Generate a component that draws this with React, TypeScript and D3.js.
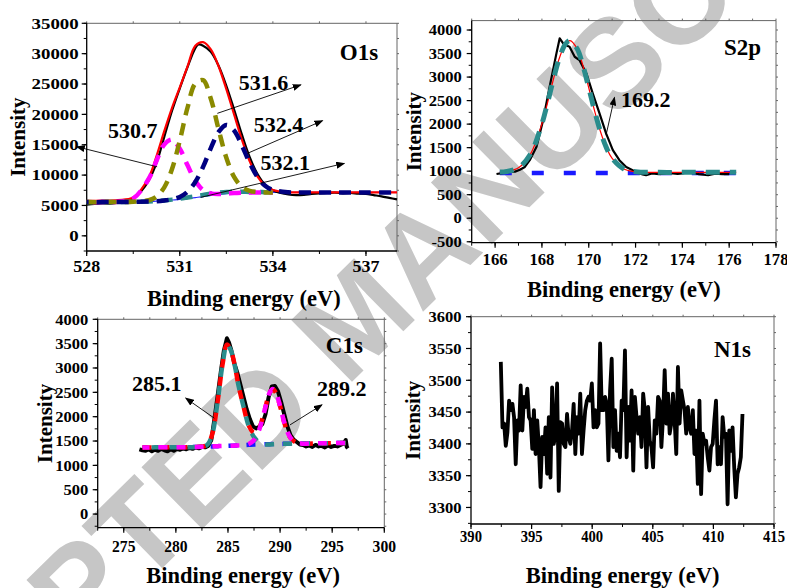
import React from 'react';
import * as d3 from 'd3';

// ---------- O1s ----------
const o1sFitE = [528, 528.5, 529, 529.5, 530, 530.25, 530.5, 530.75, 531, 531.25, 531.5, 531.75, 532, 532.25, 532.5, 532.75, 533, 533.25, 533.5, 533.75, 534, 534.5, 535, 536, 537, 538];
const o1sBase = [5550, 5550, 5570, 5600, 5650, 5700, 5800, 5900, 6000, 6150, 6300, 6450, 6650, 6800, 6950, 7050, 7100, 7130, 7150, 7150, 7150, 7150, 7150, 7150, 7150, 7150];
// components stop where they merge with the baseline (534 eV), except 532.4
const o1s5307 = [5550, 5550, 5600, 6160, 9400, 12370, 15030, 15850, 14350, 11610, 9080, 7550, 6990, 6880, 6950, 7050, 7100, 7130, 7150, 7150, 7150];
const o1s5316 = [5550, 5550, 5570, 5610, 5865, 6460, 7990, 11010, 15700, 21130, 25090, 25630, 22580, 17550, 12860, 9690, 8060, 7410, 7220, 7150, 7150];
const o1s5324 = [5550, 5550, 5570, 5600, 5650, 5706, 5830, 6020, 6400, 7260, 8860, 11350, 14450, 17100, 18250, 17350, 14900, 12030, 9710, 8260, 7550, 7180, 7150, 7150, 7150, 7150];
const o1s5321 = [5550, 5550, 5570, 5600, 5660, 5720, 5830, 5960, 6110, 6310, 6520, 6730, 6940, 7090, 7210, 7270, 7260, 7230, 7215, 7190, 7170];
const o1sSum = [5750, 5800, 5900, 6300, 9615, 13136, 17250, 21080, 24450, 27900, 31300, 31900, 30720, 27930, 24160, 19990, 15860, 12310, 9780, 8260, 7550, 7180, 7150, 7150, 7150, 7150];
const o1sRawE = [528, 528.25, 528.5, 528.75, 529, 529.25, 529.5, 529.75, 530, 530.25, 530.5, 530.75, 531, 531.25, 531.5, 531.6, 531.75, 532, 532.25, 532.5, 532.75, 533, 533.25, 533.5, 533.75, 534, 534.25, 534.5, 534.75, 535, 535.25, 535.5, 535.75, 536, 536.25, 536.5, 536.75, 537, 537.25, 537.5, 537.75, 538];
const o1sRaw = [5150, 5250, 5350, 5300, 5450, 5700, 6200, 7300, 9100, 12000, 16300, 20600, 24300, 27800, 30900, 31500, 31300, 30300, 28000, 24700, 20800, 16700, 13000, 10200, 8400, 7500, 7050, 6800, 6700, 6750, 6900, 7000, 7050, 7100, 7000, 7050, 6950, 6900, 6700, 6500, 6250, 6000];
const o1sXTicks = [528, 531, 534, 537];
const o1sYTicks = [0, 5000, 10000, 15000, 20000, 25000, 30000, 35000];

// ---------- S2p ----------
const s2pFitE = [166.2, 166.5, 167, 167.5, 168, 168.25, 168.5, 168.75, 169, 169.2, 169.5, 169.75, 170, 170.25, 170.5, 170.75, 171, 171.5, 172, 173, 174, 175, 176.3];
const s2pFit = [980, 993, 1073, 1353, 2008, 2474, 2970, 3409, 3699, 3775, 3606, 3246, 2773, 2281, 1844, 1506, 1273, 1047, 987, 975, 975, 975, 975];
const s2pBaseE = [166.2, 176.3];
const s2pBase = [960, 960];
const s2pRawE = [166.06, 166.3, 166.63, 166.85, 167.06, 167.27, 167.48, 167.77, 168.05, 168.33, 168.62, 168.76, 168.9, 169.0, 169.18, 169.4, 169.6, 169.9, 170.17, 170.46, 170.74, 171.03, 171.31, 171.6, 172.02, 172.3, 172.45, 172.7, 173.0, 173.3, 173.5, 173.8, 174.0, 174.3, 174.5, 174.7, 175.1, 175.4, 175.7, 176.0];
const s2pRaw = [940, 960, 985, 990, 1030, 1090, 1234, 1517, 2085, 2794, 3504, 3823, 3720, 3680, 3645, 3432, 3362, 3078, 2653, 2227, 1802, 1447, 1234, 1090, 985, 930, 915, 950, 936, 955, 960, 940, 950, 985, 960, 936, 915, 945, 936, 936];
const s2pXTicks = [166, 168, 170, 172, 174, 176, 178];
const s2pYTicks = [-500, 0, 500, 1000, 1500, 2000, 2500, 3000, 3500, 4000];

// ---------- C1s ----------
const c1sFitE = [276.8, 278, 280, 282, 283, 283.5, 284, 284.5, 284.9, 285.3, 285.7, 286, 286.5, 287, 287.5, 288, 288.5, 289, 289.3, 289.6, 290, 290.5, 291, 291.5, 292, 294, 296.3];
const c1sBase = [1368, 1370, 1372, 1378, 1385, 1390, 1395, 1398, 1400, 1403, 1406, 1410, 1415, 1422, 1430, 1432, 1434, 1436, 1437, 1438, 1440, 1443, 1446, 1448, 1450, 1455, 1460];
const c1s2851 = [1368, 1370, 1372, 1378, 1420, 1650, 2300, 3100, 3480, 3350, 3000, 2650, 2200, 1800, 1580, 1470, 1430, 1430, 1432, 1435, 1440, 1443, 1446, 1448, 1450, 1455, 1460];
const c1s2892 = [1368, 1370, 1372, 1378, 1385, 1390, 1395, 1398, 1400, 1403, 1406, 1410, 1415, 1440, 1520, 1735, 2120, 2493, 2570, 2495, 2215, 1812, 1565, 1475, 1450, 1455, 1460];
const c1sSum = [1368, 1370, 1372, 1378, 1420, 1650, 2300, 3100, 3480, 3350, 3000, 2650, 2200, 1818, 1670, 1773, 2116, 2487, 2565, 2492, 2215, 1812, 1565, 1475, 1450, 1455, 1460];
const c1sRawE = [276.5, 276.8, 277.1, 277.4, 277.7, 278, 278.3, 278.6, 278.9, 279.2, 279.5, 279.8, 280.1, 280.4, 280.7, 281, 281.3, 281.6, 281.9, 282.2, 282.5, 282.8, 283.1, 283.4, 283.7, 284, 284.3, 284.6, 284.9, 285.1, 285.3, 285.6, 285.9, 286.2, 286.5, 286.8, 287.1, 287.4, 287.7, 288, 288.3, 288.6, 288.9, 289.2, 289.5, 289.8, 290.1, 290.4, 290.7, 291, 291.3, 291.6, 291.9, 292.2, 292.5, 292.8, 293.1, 293.4, 293.7, 294, 294.3, 294.6, 294.9, 295.2, 295.5, 295.8, 296.1, 296.3, 296.4, 296.5];
const c1sRaw = [1330, 1310, 1300, 1330, 1290, 1320, 1300, 1340, 1310, 1290, 1330, 1300, 1340, 1320, 1350, 1330, 1360, 1340, 1370, 1350, 1380, 1370, 1400, 1520, 1950, 2420, 2900, 3350, 3610, 3520, 3380, 3100, 2900, 2650, 2400, 2150, 1950, 1800, 1760, 1790, 1850, 2050, 2400, 2620, 2630, 2520, 2300, 2050, 1800, 1620, 1530, 1480, 1430, 1420, 1390, 1410, 1380, 1420, 1390, 1400, 1370, 1410, 1380, 1400, 1390, 1420, 1450, 1520, 1380, 1350];
const c1sXTicks = [275, 280, 285, 290, 295, 300];
const c1sYTicks = [0, 500, 1000, 1500, 2000, 2500, 3000, 3500, 4000];

// ---------- N1s ----------
const n1sStartE = 392.46;
const n1sEndE = 412.4;
const n1sRaw = [3529, 3426, 3432, 3397, 3418, 3468, 3453, 3463, 3442, 3368, 3437, 3421, 3492, 3421, 3474, 3458, 3487, 3442, 3437, 3392, 3453, 3384, 3437, 3395, 3332, 3411, 3384, 3426, 3353, 3442, 3347, 3489, 3400, 3416, 3495, 3326, 3434, 3432, 3400, 3395, 3447, 3411, 3400, 3421, 3463, 3384, 3442, 3416, 3479, 3384, 3421, 3453, 3468, 3474, 3468, 3495, 3426, 3453, 3426, 3432, 3558, 3453, 3453, 3474, 3463, 3374, 3484, 3534, 3395, 3453, 3389, 3416, 3379, 3468, 3453, 3547, 3379, 3458, 3405, 3484, 3358, 3474, 3442, 3416, 3442, 3395, 3479, 3453, 3363, 3458, 3405, 3395, 3363, 3437, 3416, 3474, 3468, 3395, 3442, 3516, 3432, 3479, 3416, 3432, 3479, 3437, 3384, 3521, 3432, 3484, 3468, 3453, 3416, 3458, 3426, 3416, 3453, 3384, 3421, 3337, 3468, 3321, 3416, 3400, 3405, 3379, 3358, 3395, 3400, 3437, 3468, 3368, 3395, 3368, 3442, 3411, 3416, 3305, 3421, 3389, 3426, 3363, 3316, 3353, 3363, 3379, 3447];
const n1sRawE = n1sRaw.map((_, i) => n1sStartE + (i * (n1sEndE - n1sStartE)) / (n1sRaw.length - 1));
const n1sXTicks = [390, 395, 400, 405, 410, 415];
const n1sYTicks = [3300, 3350, 3400, 3450, 3500, 3550, 3600];

const FONT = '"Liberation Serif", "Times New Roman", serif';

type Series = { xs: number[]; ys: number[]; color: string; width: number; dash?: string; offset?: number; smooth?: boolean };
type Ann = { label: string; at: [number, number]; from: [number, number]; to: [number, number] };

type PanelProps = {
  box: [number, number, number, number]; // left, top, right, bottom
  xDom: [number, number];
  yDom: [number, number];
  xTicks: number[];
  xMinor: number;
  yTicks: number[];
  yMinor: number;
  series: Series[];
  anns: Ann[];
  name: string;
  nameOff: [number, number];
  ySx: number;
  xSx: number;
  xLabDy: number;
  yLabGap: number;
  yTitleX: number;
  xTitleY: number;
};

function Panel(p: PanelProps) {
  const [left, top, right, bottom] = p.box;
  const x = d3.scaleLinear().domain(p.xDom).range([left, right]);
  const y = d3.scaleLinear().domain(p.yDom).range([bottom, top]);
  const xMinor = d3.range(Math.ceil(p.xDom[0] / p.xMinor - 1e-6) * p.xMinor, p.xDom[1] + 1e-6, p.xMinor);
  const yMinor = d3.range(Math.ceil(p.yDom[0] / p.yMinor - 1e-6) * p.yMinor, p.yDom[1] + 1e-6, p.yMinor);

  const path = (s: Series) =>
    d3
      .line<number>()
      .x((_, i) => x(s.xs[i]))
      .y((d) => y(d))
      .curve(s.smooth ? d3.curveCatmullRom : d3.curveLinear)(s.ys) || '';

  return (
    <g style={{ fontFamily: FONT, fontWeight: 700 }}>
      {/* frame */}
      <line x1={left} x2={right} y1={top} y2={top} stroke="#666" strokeWidth={1} />
      <line x1={right} x2={right} y1={top} y2={bottom} stroke="#666" strokeWidth={1} />
      {xMinor.map((v) => (
        <line key={'tx' + v} x1={x(v)} x2={x(v)} y1={top} y2={top - 2} stroke="#666" />
      ))}
      {yMinor.map((v) => (
        <line key={'ty' + v} x1={right} x2={right + 2} y1={y(v)} y2={y(v)} stroke="#666" />
      ))}
      <line x1={left} x2={right} y1={bottom} y2={bottom} stroke="#000" strokeWidth={1.3} />
      <line x1={left} x2={left} y1={top} y2={bottom} stroke="#000" strokeWidth={1.3} />
      {xMinor.map((v) => (
        <line key={'mx' + v} x1={x(v)} x2={x(v)} y1={bottom} y2={bottom + 3} stroke="#000" />
      ))}
      {yMinor.map((v) => (
        <line key={'my' + v} x1={left} x2={left - 3} y1={y(v)} y2={y(v)} stroke="#000" />
      ))}
      {p.xTicks.map((v) => (
        <g key={'xt' + v}>
          <line x1={x(v)} x2={x(v)} y1={bottom} y2={bottom + 5} stroke="#000" strokeWidth={1.2} />
          <text transform={`translate(${x(v)},${bottom + p.xLabDy}) scale(${p.xSx},1)`} textAnchor="middle" fontSize={17}>
            {v}
          </text>
        </g>
      ))}
      {p.yTicks.map((v) => (
        <g key={'yt' + v}>
          <line x1={left} x2={left - 5} y1={y(v)} y2={y(v)} stroke="#000" strokeWidth={1.2} />
          <text transform={`translate(${left - p.yLabGap},${y(v)}) scale(${p.ySx},1)`} textAnchor="end" dy="0.36em" fontSize={14.5}>
            {v}
          </text>
        </g>
      ))}
      {/* data */}
      {p.series.map((s, i) => (
        <path
          key={'s' + i}
          d={path(s)}
          fill="none"
          stroke={s.color}
          strokeWidth={s.width}
          strokeDasharray={s.dash}
          strokeDashoffset={s.offset}
          strokeLinejoin="round"
        />
      ))}
      {/* annotations */}
      {p.anns.map((a, i) => (
        <g key={'a' + i}>
          <line x1={x(a.from[0])} y1={y(a.from[1])} x2={x(a.to[0])} y2={y(a.to[1])} stroke="#000" strokeWidth={0.9} markerEnd="url(#arrow)" />
          <text x={x(a.at[0])} y={y(a.at[1])} fontSize={22}>
            {a.label}
          </text>
        </g>
      ))}
      <text x={right - p.nameOff[0]} y={top + p.nameOff[1]} textAnchor="middle" fontSize={23}>
        {p.name}
      </text>
      <text transform={`translate(${p.yTitleX},${(top + bottom) / 2}) rotate(-90)`} textAnchor="middle" fontSize={21}>
        Intensity
      </text>
      <text x={(left + right) / 2 + (left < 200 ? 2 : 0)} y={p.xTitleY} textAnchor="middle" fontSize={22.5}>
        Binding energy (eV)
      </text>
    </g>
  );
}

export default function App() {
  const dash = '12 8';
  return (
    <svg width={787} height={588} style={{ position: 'absolute', left: 0, top: 0, background: '#fff' }}>
      <defs>
        <marker id="arrow" markerUnits="userSpaceOnUse" markerWidth={9} markerHeight={7} refX={8} refY={3.5} orient="auto">
          <path d="M0,0 L9,3.5 L0,7 z" fill="#000" />
        </marker>
      </defs>
      {/* watermark */}
      <text
        transform="translate(355,317) rotate(-44.5)"
        textAnchor="middle"
        dy="0.35em"
        fontSize={126}
        style={{ fontFamily: '"Liberation Sans", Arial, sans-serif', fontWeight: 700 }}
        fill="#c6c6c6"
      >
        ACCEPTED MANUSCRIPT
      </text>

      <Panel
        box={[86.7, 23.3, 397, 251]}
        xDom={[528, 538]}
        yDom={[-2500, 35000]}
        xTicks={o1sXTicks}
        xMinor={1.5}
        yTicks={o1sYTicks}
        yMinor={2500}
        series={[
          { xs: o1sFitE, ys: o1sBase, color: '#2b2bff', width: 1.2, smooth: true },
          { xs: o1sRawE, ys: o1sRaw, color: '#000', width: 2.2, smooth: true },
          { xs: o1sFitE, ys: o1sSum, color: '#ff0000', width: 2.2, smooth: true },
          { xs: o1sFitE.slice(0, o1s5321.length), ys: o1s5321, color: '#2a8c8c', width: 4.5, dash, offset: 6, smooth: true },
          { xs: o1sFitE.slice(0, o1s5307.length), ys: o1s5307, color: '#ff00ff', width: 4.5, dash, offset: 14, smooth: true },
          { xs: o1sFitE.slice(0, o1s5316.length), ys: o1s5316, color: '#8a8a00', width: 4.5, dash, offset: 2, smooth: true },
          { xs: o1sFitE, ys: o1s5324, color: '#000080', width: 4.5, dash, offset: 10, smooth: true },
        ]}
        anns={[
          { label: '531.6', at: [532.9, 24000], from: [532.21, 20170], to: [534.9, 24860] },
          { label: '532.4', at: [533.38, 17090], from: [533.18, 13580], to: [535.6, 18960] },
          { label: '532.1', at: [533.6, 10830], from: [531.67, 6330], to: [536.3, 11930] },
          { label: '530.7', at: [528.69, 16100], from: [530.27, 11370], to: [527.68, 14670] },
        ]}
        name="O1s"
        nameOff={[38, 37]}
        ySx={1.3}
        xSx={1.06}
        xLabDy={21}
        yLabGap={8}
        yTitleX={25}
        xTitleY={306}
      />

      <Panel
        box={[471.7, 20.6, 776, 242.7]}
        xDom={[165, 178]}
        yDom={[-520, 4200]}
        xTicks={s2pXTicks}
        xMinor={1}
        yTicks={s2pYTicks}
        yMinor={250}
        series={[
          { xs: s2pBaseE, ys: s2pBase, color: '#1a1aff', width: 4.5, dash: '12 20' },
          { xs: s2pRawE, ys: s2pRaw, color: '#000', width: 2.2, smooth: false },
          { xs: s2pFitE, ys: s2pFit, color: '#ff0000', width: 1.2, smooth: true },
          { xs: s2pFitE, ys: s2pFit, color: '#2a8c8c', width: 5, dash: '14 10', smooth: true },
        ]}
        anns={[{ label: '169.2', at: [171.38, 2368], from: [170.74, 1766], to: [171.1, 2568] }]}
        name="S2p"
        nameOff={[33.5, 34.5]}
        ySx={1.14}
        xSx={0.98}
        xLabDy={22}
        yLabGap={10}
        yTitleX={421}
        xTitleY={297}
      />

      <Panel
        box={[97.7, 319.3, 384.3, 527.7]}
        xDom={[272.5, 300]}
        yDom={[-280, 4000]}
        xTicks={c1sXTicks}
        xMinor={2.5}
        yTicks={c1sYTicks}
        yMinor={250}
        series={[
          { xs: c1sFitE, ys: c1sBase, color: '#1a1aff', width: 4.5, dash: '9 9', offset: 4, smooth: true },
          { xs: c1sRawE, ys: c1sRaw, color: '#000', width: 4, smooth: false },
          { xs: c1sFitE, ys: c1sSum, color: '#ff0000', width: 4.5, dash: '9 9', smooth: true },
          { xs: c1sFitE, ys: c1s2851, color: '#2a8c8c', width: 4.5, dash: '9 9', offset: 9, smooth: true },
          { xs: c1sFitE, ys: c1s2892, color: '#ff00ff', width: 4.5, dash: '9 9', offset: 2, smooth: true },
        ]}
        anns={[
          { label: '285.1', at: [275.79, 2529], from: [283.69, 1969], to: [280.95, 2380] },
          { label: '289.2', at: [293.54, 2427], from: [290.95, 1831], to: [294.02, 2242] },
        ]}
        name="C1s"
        nameOff={[40, 34]}
        ySx={1.14}
        xSx={0.92}
        xLabDy={24}
        yLabGap={9.5}
        yTitleX={51.5}
        xTitleY={583}
      />

      <Panel
        box={[471, 316.7, 774, 524]}
        xDom={[390, 415]}
        yDom={[3274, 3600]}
        xTicks={n1sXTicks}
        xMinor={2.5}
        yTicks={n1sYTicks}
        yMinor={25}
        series={[{ xs: n1sRawE, ys: n1sRaw, color: '#000', width: 3.8 }]}
        anns={[]}
        name="N1s"
        nameOff={[41.5, 40]}
        ySx={1.14}
        xSx={0.86}
        xLabDy={18}
        yLabGap={9.5}
        yTitleX={419.5}
        xTitleY={583}
      />
    </svg>
  );
}
